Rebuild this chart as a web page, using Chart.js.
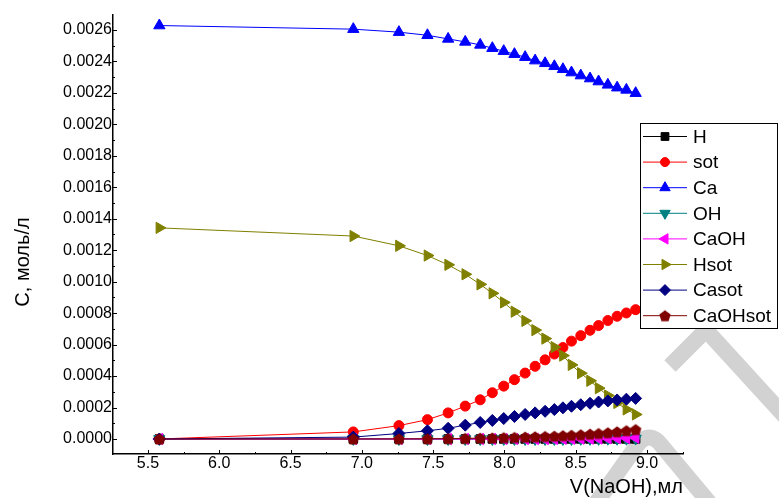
<!DOCTYPE html>
<html>
<head>
<meta charset="utf-8">
<title>C vs V(NaOH)</title>
<script src="https://cdn.jsdelivr.net/npm/chart.js@4.4.1/dist/chart.umd.min.js"></script>
<style>
  html, body { margin: 0; padding: 0; background: #fff; }
  #wrap { position: relative; width: 779px; height: 498px; }
</style>
</head>
<body>
<div id="wrap"><canvas id="chart" width="779" height="498"></canvas></div>
<script>
/* ── DATA ──────────────────────────────────────────────────── */
const volume   = [5.58, 6.94, 7.26, 7.46, 7.605, 7.725, 7.83, 7.915, 7.995, 8.07, 8.145, 8.215,
                  8.285, 8.35, 8.41, 8.47, 8.535, 8.6, 8.66, 8.725, 8.79, 8.855, 8.92];

const cH       = [0, 0, 0, 0, 0, 0, 0, 0, 0, 0, 0, 0, 0, 0, 0, 0, 0, 0, 0, 0, 0, 0, 0];
const cSot     = [0, 0.000045, 0.000085, 0.000123, 0.000166, 0.000209, 0.000249, 0.000294, 0.000336,
                  0.000377, 0.000419, 0.000462, 0.000503, 0.00054, 0.000581, 0.000622, 0.000657,
                  0.000691, 0.000721, 0.000753, 0.00078, 0.000801, 0.000822];
const cCa      = [0.002628, 0.002605, 0.002586, 0.002566, 0.002543, 0.002524, 0.002505, 0.002484,
                  0.002465, 0.002446, 0.002427, 0.002405, 0.002388, 0.002369, 0.00235, 0.002329,
                  0.00231, 0.002291, 0.002272, 0.002251, 0.002233, 0.002219, 0.002198];
const cOH      = [0, 0, 0, 0, 0, 0, 0, 0, 0, 0, 0, 0, 0, 0, 0, 0, 0.000001, 0.000001, 0.000001,
                  0.000002, 0.000002, 0.000002, 0.000003];
const cCaOH    = [0, 0, 0, 0, 0, 0, 0, 0, 0, 0, 0, 0, 0, 0, 0.000001, 0.000001, 0.000002, 0.000002,
                  0.000003, 0.000004, 0.000005, 0.000006, 0.000008];
const cHsot    = [0.001342, 0.00129, 0.001228, 0.001166, 0.001107, 0.001047, 0.000983, 0.000926,
                  0.000868, 0.000809, 0.000751, 0.000692, 0.000638, 0.000584, 0.00053, 0.000471,
                  0.000418, 0.00037, 0.000323, 0.000276, 0.000229, 0.000188, 0.000156];
const cCasot   = [0, 0.000012, 0.000035, 0.000052, 0.000068, 0.000088, 0.000105, 0.000118, 0.00013,
                  0.000143, 0.000156, 0.000166, 0.000176, 0.000187, 0.000198, 0.000208, 0.000218,
                  0.000227, 0.000235, 0.000242, 0.000248, 0.000253, 0.000258];
const cCaOHsot = [0, 0.0000003, 0.0000008, 0.0000015, 0.0000025, 0.000004, 0.0000055, 0.000007,
                  0.0000085, 0.00001, 0.000012, 0.000014, 0.000016, 0.000018, 0.000021, 0.000024,
                  0.000027, 0.000031, 0.000035, 0.00004, 0.000046, 0.000053, 0.00006];

const xTickValues = [5.5, 6.0, 6.5, 7.0, 7.5, 8.0, 8.5, 9.0];
const yTickValues = [0, 0.0002, 0.0004, 0.0006, 0.0008, 0.0010, 0.0012, 0.0014,
                     0.0016, 0.0018, 0.0020, 0.0022, 0.0024, 0.0026];

const seriesNames  = ['H', 'sot', 'Ca', 'OH', 'CaOH', 'Hsot', 'Casot', 'CaOHsot'];
const seriesValues = [cH, cSot, cCa, cOH, cCaOH, cHsot, cCasot, cCaOHsot];

/* ── STYLES ────────────────────────────────────────────────── */
const FONT = '"Liberation Sans", Arial, sans-serif';
const seriesColors = ['#000000', '#ff0000', '#0000ff', '#008080', '#ff00ff', '#808000', '#000080', '#800000'];

function makePentagon(color, r) {
  const c = document.createElement('canvas');
  const s = Math.ceil(r * 2 + 2);
  c.width = c.height = s;
  const g = c.getContext('2d');
  g.fillStyle = color;
  g.beginPath();
  for (let i = 0; i < 5; i++) {
    const a = -Math.PI / 2 + i * 2 * Math.PI / 5;
    g.lineTo(s / 2 + r * Math.cos(a), s / 2 + 0.6 + r * Math.sin(a));
  }
  g.closePath();
  g.fill();
  return c;
}

const markers = [
  { pointStyle: 'rect',     rotation: 0,   radius: 6   },
  { pointStyle: 'circle',   rotation: 0,   radius: 5   },
  { pointStyle: 'triangle', rotation: 0,   radius: 6.5 },
  { pointStyle: 'triangle', rotation: 180, radius: 6.5 },
  { pointStyle: 'triangle', rotation: -90, radius: 6.5 },
  { pointStyle: 'triangle', rotation: 90,  radius: 6.5 },
  { pointStyle: 'rectRot',  rotation: 0,   radius: 6   },
  { pointStyle: makePentagon('#800000', 6), rotation: 0, radius: 6 },
];

const datasets = seriesNames.map((name, i) => ({
  label           : name,
  data            : volume.map((v, k) => ({ x: v, y: seriesValues[i][k] })),
  borderColor     : seriesColors[i],
  backgroundColor : seriesColors[i],
  borderWidth     : 1,
  pointStyle      : markers[i].pointStyle,
  pointRotation   : markers[i].rotation,
  pointRadius     : markers[i].radius,
  pointBorderWidth: 1,
  pointHoverRadius: markers[i].radius,
  tension         : 0,
  order           : seriesNames.length - i,   // later series drawn on top
}));

/* ── PLUGINS ───────────────────────────────────────────────── */
const backdrop = {
  id: 'backdrop',
  beforeDraw(chart) {
    const ctx = chart.ctx;
    ctx.save();
    ctx.fillStyle = '#fff';
    ctx.fillRect(0, 0, chart.width, chart.height);
    // pale watermark strokes from the scanned page
    ctx.strokeStyle = '#d2d2d2';
    ctx.lineWidth = 16;
    ctx.lineJoin = 'round';
    ctx.beginPath();
    ctx.moveTo(670, 366); ctx.lineTo(706, 330); ctx.lineTo(792, 424);
    ctx.stroke();
    ctx.beginPath();
    ctx.moveTo(594, 506); ctx.lineTo(638, 444);
    ctx.quadraticCurveTo(650, 430, 662, 446);
    ctx.lineTo(712, 506);
    ctx.stroke();
    ctx.restore();
  }
};

const axisDecor = {
  id: 'axisDecor',
  afterDatasetsDraw(chart) {
    const { ctx, chartArea: a, scales: { x, y } } = chart;
    ctx.save();
    ctx.strokeStyle = '#000';
    ctx.lineWidth = 1;
    // inward major + minor ticks
    const xs = xTickValues.concat(xTickValues.map(v => v + 0.25), [xTickValues[0] - 0.25]);
    xs.forEach(v => {
      if (v < x.min || v > x.max) return;
      const px = Math.round(x.getPixelForValue(v)) + 0.5;
      const len = xTickValues.includes(v) ? 4 : 2;
      ctx.beginPath(); ctx.moveTo(px, a.bottom); ctx.lineTo(px, a.bottom - len); ctx.stroke();
    });
    const ys = yTickValues.concat(yTickValues.map(v => v + 0.0001));
    ys.forEach((v, k) => {
      if (v < y.min || v > y.max) return;
      const py = Math.round(y.getPixelForValue(v)) + 0.5;
      const len = k < yTickValues.length ? 4 : 2;
      ctx.beginPath(); ctx.moveTo(a.left, py); ctx.lineTo(a.left + len, py); ctx.stroke();
    });
    ctx.restore();
  },
  afterDraw(chart) {
    const ctx = chart.ctx;
    // y axis title
    ctx.save();
    ctx.fillStyle = '#000';
    ctx.font = '20px ' + FONT;
    ctx.textAlign = 'center';
    ctx.textBaseline = 'middle';
    ctx.translate(23, 262);
    ctx.rotate(-Math.PI / 2);
    ctx.fillText('C, моль/л', 0, 0);
    ctx.restore();

    // legend box inside the plot
    const box = { left: 640.5, top: 123.5, width: 137, height: 205, row: 25.6, first: 136.5 };
    ctx.save();
    ctx.fillStyle = '#fff';
    ctx.fillRect(box.left, box.top, box.width, box.height);
    ctx.strokeStyle = '#000';
    ctx.lineWidth = 1;
    ctx.strokeRect(box.left, box.top, box.width, box.height);
    ctx.font = '19px ' + FONT;
    ctx.textBaseline = 'middle';
    ctx.textAlign = 'left';
    seriesNames.forEach((name, i) => {
      const yy = box.first + i * box.row;
      ctx.strokeStyle = seriesColors[i];
      ctx.fillStyle = seriesColors[i];
      ctx.lineWidth = 1;
      ctx.beginPath(); ctx.moveTo(643, yy); ctx.lineTo(687, yy); ctx.stroke();
      Chart.helpers.drawPoint(ctx, {
        pointStyle : markers[i].pointStyle,
        rotation   : markers[i].rotation,
        radius     : markers[i].radius - 0.5,
        borderWidth: 1,
      }, 665, yy);
      ctx.fillStyle = '#000';
      ctx.fillText(name, 693, yy + 1);
    });
    ctx.restore();
  }
};

/* ── CHART ─────────────────────────────────────────────────── */
new Chart(document.getElementById('chart'), {
  type: 'line',
  data: { datasets },
  plugins: [backdrop, axisDecor],
  options: {
    responsive: false,
    animation : false,
    events    : [],
    layout    : { padding: { left: 0, right: 96, top: 15, bottom: 0 } },
    scales: {
      x: {
        type  : 'linear',
        min   : 5.255,
        max   : 9.252,
        afterFit: s => { s.height = 44; },
        afterBuildTicks: s => { s.ticks = xTickValues.map(v => ({ value: v })); },
        grid  : { display: true, drawOnChartArea: false, drawTicks: false },
        border: { display: true, color: '#000', width: 1.5 },
        ticks : {
          padding : 0,
          color   : '#000',
          font    : { family: FONT, size: 16 },
          maxRotation: 0,
          autoSkip: false,
          callback: v => v.toFixed(1),
        },
        title: {
          display: true,
          text   : 'V(NaOH),мл',
          align  : 'end',
          color  : '#000',
          font   : { family: FONT, size: 20, lineHeight: 1.1 },
          padding: { top: 0, bottom: 0 },
        },
      },
      y: {
        type  : 'linear',
        min   : -0.0000954,
        max   : 0.002695,
        afterFit: s => { s.width = 113; },
        afterBuildTicks: s => { s.ticks = yTickValues.map(v => ({ value: v })); },
        grid  : { display: true, drawOnChartArea: false, drawTicks: false },
        border: { display: true, color: '#000', width: 1.5 },
        ticks : {
          padding : 1,
          color   : '#000',
          font    : { family: FONT, size: 16 },
          autoSkip: false,
          callback: v => Math.abs(v) < 1e-9 ? '0.0000' : v.toFixed(4),
        },
      },
    },
    plugins: {
      legend : { display: false },
      tooltip: { enabled: false },
    },
  },
});
</script>
</body>
</html>
